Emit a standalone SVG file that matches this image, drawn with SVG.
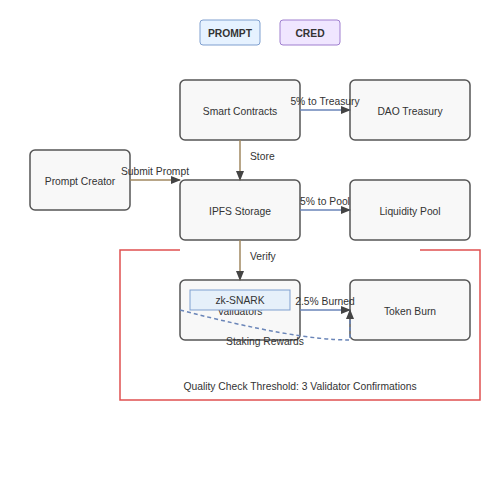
<svg xmlns="http://www.w3.org/2000/svg" width="500" height="500" viewBox="0 0 500 500">
<defs>
<style>
text{font-family:"Liberation Sans",Arial,sans-serif;font-size:10.3px;fill:#333}
.node{fill:#f8f8f8;stroke:#555;stroke-width:1.5}
.c{text-anchor:middle}
.blue{stroke:#6a85b8;stroke-width:1.5;fill:none}
.brown{stroke:#a08860;stroke-width:1.5;fill:none}
</style>
<marker id="ah" viewBox="0 0 10 10" refX="9" refY="5" markerWidth="10" markerHeight="10" markerUnits="userSpaceOnUse" orient="auto">
<path d="M0,1 L10,5 L0,9 z" fill="#444"/>
</marker>
</defs>
<rect width="500" height="500" fill="#fff"/>
<g id="legend">
<rect x="200" y="20" width="60" height="25" rx="3" fill="#e6f2ff" stroke="#7f9fcf" stroke-width="1"/>
<text x="230" y="36.5" class="c" font-weight="bold">PROMPT</text>
<rect x="280" y="20" width="60" height="25" rx="3" fill="#f0e6ff" stroke="#9f7fcf" stroke-width="1"/>
<text x="310" y="36.5" class="c" font-weight="bold">CRED</text>
</g>
<g id="threshold">
<polyline points="180,250 120,250 120,400 480,400 480,250 420,250" fill="none" stroke="#e05050" stroke-width="1.5"/>
<text x="300" y="390" class="c">Quality Check Threshold: 3 Validator Confirmations</text>
</g>
<g id="smart-contracts"><rect class="node" x="180" y="80" width="120" height="60" rx="5"/><text x="240" y="115" class="c">Smart Contracts</text></g>
<g id="dao-treasury"><rect class="node" x="350" y="80" width="120" height="60" rx="5"/><text x="410" y="115" class="c">DAO Treasury</text></g>
<g id="prompt-creator"><rect class="node" x="30" y="150" width="100" height="60" rx="5"/><text x="80" y="185" class="c">Prompt Creator</text></g>
<g id="ipfs-storage"><rect class="node" x="180" y="180" width="120" height="60" rx="5"/><text x="240" y="215" class="c">IPFS Storage</text></g>
<g id="liquidity-pool"><rect class="node" x="350" y="180" width="120" height="60" rx="5"/><text x="410" y="215" class="c">Liquidity Pool</text></g>
<g id="validators"><rect class="node" x="180" y="280" width="120" height="60" rx="5"/><text x="240" y="315" class="c">Validators</text>
<rect x="190" y="290" width="100" height="20" fill="#e6f0fa" stroke="#7f9fcf" stroke-width="1"/><text x="240" y="304" class="c">zk-SNARK</text></g>
<g id="token-burn"><rect class="node" x="350" y="280" width="120" height="60" rx="5"/><text x="410" y="315" class="c">Token Burn</text></g>
<g id="connectors">
<line class="blue" x1="300" y1="110" x2="350" y2="110" marker-end="url(#ah)"/>
<text x="325" y="105" class="c">5% to Treasury</text>
<line class="brown" x1="240" y1="140" x2="240" y2="180" marker-end="url(#ah)"/>
<text x="250" y="160">Store</text>
<line class="brown" x1="130" y1="180" x2="180" y2="180" marker-end="url(#ah)"/>
<text x="155" y="175" class="c">Submit Prompt</text>
<line class="blue" x1="300" y1="210" x2="350" y2="210" marker-end="url(#ah)"/>
<text x="325" y="205" class="c">5% to Pool</text>
<line class="brown" x1="240" y1="240" x2="240" y2="280" marker-end="url(#ah)"/>
<text x="250" y="260">Verify</text>
<line class="blue" x1="300" y1="310" x2="350" y2="310" marker-end="url(#ah)"/>
<text x="325" y="305" class="c">2.5% Burned</text>
<path class="blue" d="M180,310 Q295,340 350,340 L350,310" stroke-dasharray="4,3" marker-end="url(#ah)"/>
<text x="265" y="345" class="c">Staking Rewards</text>
</g>
</svg>
